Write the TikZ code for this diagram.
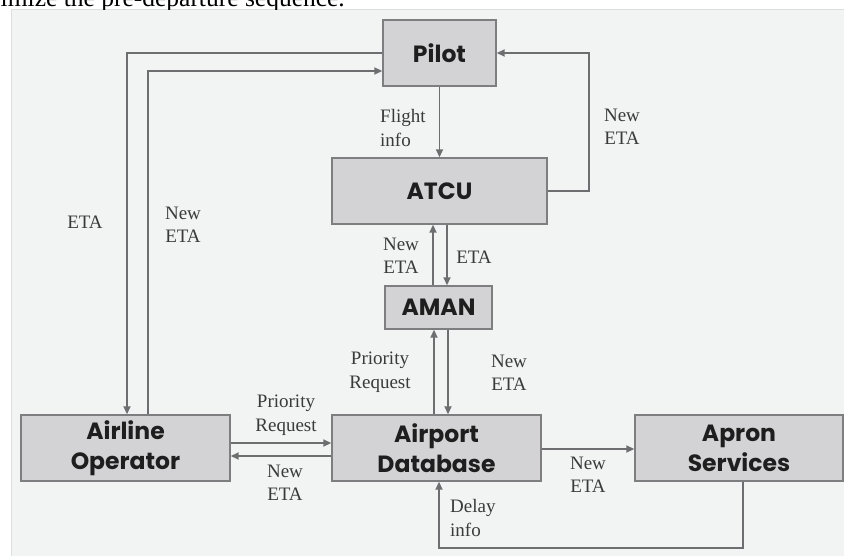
\documentclass[tikz,border=0pt]{standalone}
\usepackage{fontspec}
\setmainfont{Liberation Serif}
\newfontfamily\boxfont{Poppins}
\usetikzlibrary{arrows.meta}
\definecolor{panel}{HTML}{F2F3F3}
\definecolor{panedge}{HTML}{DCDDDD}
\definecolor{boxfill}{HTML}{D3D3D5}
\definecolor{boxline}{HTML}{7E7E80}
\definecolor{arrowc}{HTML}{6E6E70}
\definecolor{labc}{HTML}{3A3A3A}
\definecolor{boxtext}{HTML}{1E1E1E}
\begin{document}
\begin{tikzpicture}[x=1pt,y=-1pt,
  blk/.style 2 args={draw=boxline, line width=1.4pt, fill=boxfill, minimum width=#1, minimum height=#2, inner sep=0pt, align=center, font=\boxfont\bfseries\fontsize{23.5}{30}\selectfont, text=boxtext},
  lab/.style={inner sep=0pt, align=center, text=labc, font=\fontsize{19}{23.5}\selectfont},
  labl/.style={lab, align=left, anchor=west},
  arr/.style={draw=arrowc, line width=1.7pt, -{Triangle[length=8pt,width=7pt]}},
  ln/.style={draw=arrowc, line width=1.7pt}]
\useasboundingbox (0,0) rectangle (844,556);
\fill[white] (0,0) rectangle (844,556);
\fill[panel] (11,10) rectangle (844,556);
\draw[panedge, line width=1pt] (11,556) -- (11,10) -- (844,10);
\begin{scope}
\clip (0,0) rectangle (844,10);
\node[anchor=base east, inner sep=0pt, font=\fontsize{25.5}{30}\selectfont] (cap) at (345,6.5) {imize the pre-departure sequence.};
\end{scope}

% boxes
\node[blk={113pt}{66pt}] (pilot) at (439.5,53) {Pilot};
\node[blk={215pt}{66pt}] (atcu) at (439.5,191) {ATCU};
\node[blk={107pt}{43pt}] (aman) at (438.5,307.5) {AMAN};
\node[blk={209pt}{66pt}] (airline) at (125.5,448) {Airline\\Operator};
\node[blk={209pt}{66pt}] (airport) at (436.5,448) {Airport\\Database};
\node[blk={208pt}{66pt}] (apron) at (739,448) {Apron\\Services};

% Pilot <-> Airline
\draw[arr] (pilot.west) -| ([xshift=1.5pt]airline.north);
\draw[arr] ([xshift=22.5pt]airline.north) |- ([yshift=-18pt]pilot.west);
% Pilot -> ATCU
\draw[arr] (pilot.south) -- (atcu.north);
% ATCU -> Pilot loop
\draw[arr] (atcu.east) -- ++(41,0) |- (pilot.east);
% ATCU <-> AMAN
\draw[arr] ([xshift=-5.5pt]aman.north) -- ([xshift=-5.5pt]aman.north |- atcu.south);
\draw[arr] ([xshift=8.5pt]aman.north |- atcu.south) -- ([xshift=8.5pt]aman.north);
% AMAN <-> Airport
\draw[arr] ([xshift=-2.5pt]airport.north) -- ([xshift=-2.5pt]airport.north |- aman.south);
\draw[arr] ([xshift=11.5pt]airport.north |- aman.south) -- ([xshift=11.5pt]airport.north);
% Airline <-> Airport
\draw[arr] ([yshift=5pt]airline.east) -- ([yshift=5pt]airline.east -| airport.west);
\draw[arr] ([yshift=-8pt]airport.west) -- ([yshift=-8pt]airport.west -| airline.east);
% Airport -> Apron
\draw[arr] ([yshift=-1pt]airport.east) -- ([yshift=-1pt]apron.west);
% Apron -> Airport loop
\draw[arr] ([xshift=4pt]apron.south) -- ++(0,66) -| ([xshift=2.5pt]airport.south);

% labels
\node[lab] (l1) at (85,222) {ETA};
\node[lab] (l2) at (183,225) {New\\ETA};
\node[labl] (l3) at (380,128) {Flight\\info};
\node[lab] (l4) at (622,127) {New\\ETA};
\node[lab] (l5) at (401,256) {New\\ETA};
\node[lab] (l6) at (474,257) {ETA};
\node[lab] (l7) at (380,372) {Priority\\Request};
\node[lab] (l8) at (509,373) {New\\ETA};
\node[lab] (l9) at (286,415) {Priority\\Request};
\node[lab] (l10) at (285,483) {New\\ETA};
\node[lab] (l11) at (588,475) {New\\ETA};
\node[labl] (l12) at (450,518) {Delay\\info};
\end{tikzpicture}
\end{document}
